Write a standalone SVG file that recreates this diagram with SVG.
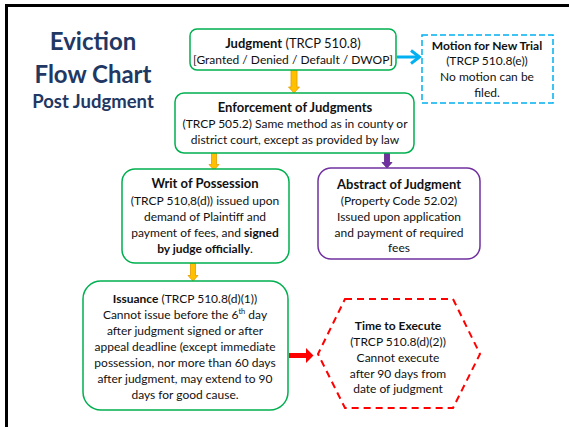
<svg xmlns="http://www.w3.org/2000/svg" width="569" height="427" viewBox="0 0 569 427">
<style>
.t{font-family:Lato,"Liberation Sans",sans-serif;font-size:12px;fill:#111;text-anchor:middle}
.b{font-weight:bold}
.h{font-size:13px}
.title{font-family:Lato,"Liberation Sans",sans-serif;font-weight:bold;fill:#1F3864;text-anchor:middle}
.g{fill:#fff;stroke:#00B050;stroke-width:1.5}
.p{fill:#fff;stroke:#7030A0;stroke-width:1.5}
.gold{fill:#FFC000;stroke:#E39A00;stroke-width:0.8}
.pur{fill:#7030A0;stroke:#5B2485;stroke-width:0.8}
</style>
<rect x="0" y="0" width="569" height="427" fill="#fff"/>
<path d="M6.5,427 V5.5 H569" fill="none" stroke="#000" stroke-width="3"/>
<g id="title">
<text class="title" x="93" y="50" font-size="24">Eviction</text>
<text class="title" x="93" y="83" font-size="24">Flow Chart</text>
<text class="title" x="93" y="108" font-size="18.5">Post Judgment</text>
</g>
<g id="connectors">
<path class="gold" d="M291,70 H297 V87 H299.5 L294,93 L288.5,87 H291 Z"/>
<path class="gold" d="M211.5,153 H216.5 V164.5 H219 L214,170 L209,164.5 H211.5 Z"/>
<path class="pur" d="M384.5,153 H389.5 V162.5 H392 L387,168 L382,162.5 H384.5 Z"/>
<path class="gold" d="M190.5,263 H195.5 V275.5 H198 L193,281 L188,275.5 H190.5 Z"/>
<path d="M397,57 H419" stroke="#00B0F0" stroke-width="3" fill="none"/>
<path d="M411,50.5 L419.5,57 L411,63.5" stroke="#00B0F0" stroke-width="3" fill="none"/>
<path d="M289,353 H306 V348 L313.5,355.5 L306,363 V358 H289 Z" fill="#FF0000"/>
</g>
<g id="judgment">
<rect class="g" x="190" y="29" width="206" height="41" rx="7"/>
<text class="t h" x="293" y="48"><tspan class="b">Judgment</tspan> (TRCP 510.8)</text>
<text class="t" x="293" y="64" font-size="11.5">[Granted / Denied / Default / DWOP]</text>
</g>
<g id="motion">
<rect x="422" y="35" width="131" height="68" fill="#fff" stroke="#00B0F0" stroke-width="1.5" stroke-dasharray="6,3"/>
<text class="t b" x="487" y="50">Motion for New Trial</text>
<text class="t" x="487" y="65">(TRCP 510.8(e))</text>
<text class="t" x="487" y="81">No motion can be</text>
<text class="t" x="487" y="97">filed.</text>
</g>
<g id="enforcement">
<rect class="g" x="175" y="93" width="239" height="60" rx="9"/>
<text class="t b h" x="295" y="112">Enforcement of Judgments</text>
<text class="t" x="295" y="128">(TRCP 505.2) Same method as in county or</text>
<text class="t" x="295" y="144">district court, except as provided by law</text>
</g>
<g id="writ">
<rect class="g" x="122" y="169" width="167" height="94" rx="13"/>
<text class="t b h" x="205" y="188">Writ of Possession</text>
<text class="t" x="205" y="205">(TRCP 510,8(d)) issued upon</text>
<text class="t" x="205" y="221">demand of Plaintiff and</text>
<text class="t" x="205" y="237">payment of fees, and <tspan class="b">signed</tspan></text>
<text class="t" x="205" y="253"><tspan class="b">by judge officially</tspan>.</text>
</g>
<g id="abstract">
<rect class="p" x="318" y="168" width="162" height="91" rx="13"/>
<text class="t b h" x="399" y="189">Abstract of Judgment</text>
<text class="t" x="399" y="205">(Property Code 52.02)</text>
<text class="t" x="399" y="221">Issued upon application</text>
<text class="t" x="399" y="237">and payment of required</text>
<text class="t" x="399" y="252">fees</text>
</g>
<g id="issuance">
<rect class="g" x="83" y="281" width="205" height="129" rx="18"/>
<text class="t" x="185" y="303" font-size="12.5"><tspan class="b">Issuance</tspan> (TRCP 510.8(d)(1))</text>
<text class="t" x="185" y="319">Cannot issue before the 6<tspan font-size="7.5" dy="-5">th</tspan><tspan dy="5"> day</tspan></text>
<text class="t" x="185" y="335">after judgment signed or after</text>
<text class="t" x="185" y="351">appeal deadline (except immediate</text>
<text class="t" x="185" y="367">possession, nor more than 60 days</text>
<text class="t" x="185" y="383">after judgment, may extend to 90</text>
<text class="t" x="185" y="399">days for good cause.</text>
</g>
<g id="execute">
<polygon points="345,299 453,299 480,354 453,408 345,408 318,354" fill="#fff" stroke="#FF0000" stroke-width="2" stroke-dasharray="7,5"/>
<text class="t b" x="398" y="330" font-size="12.8">Time to Execute</text>
<text class="t" x="398" y="346">(TRCP 510.8(d)(2))</text>
<text class="t" x="398" y="362">Cannot execute</text>
<text class="t" x="398" y="378">after 90 days from</text>
<text class="t" x="398" y="393">date of judgment</text>
</g>
</svg>
